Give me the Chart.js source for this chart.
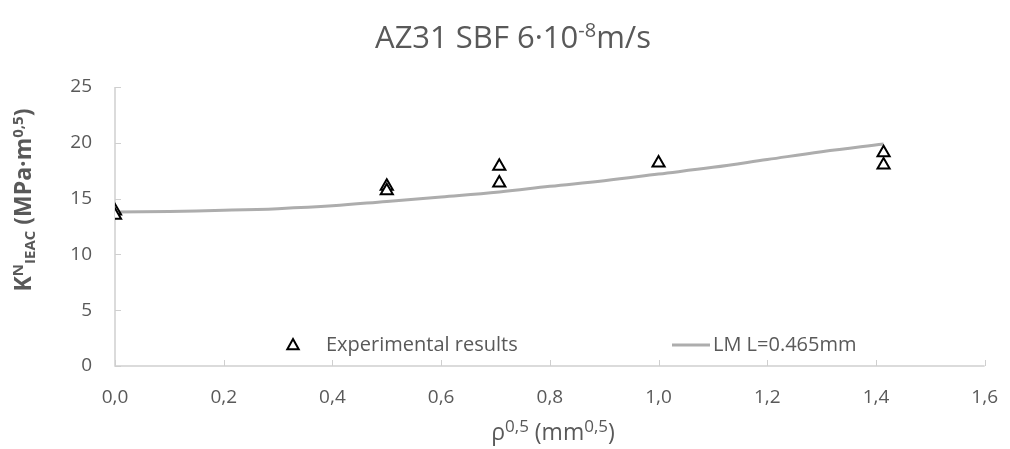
<!DOCTYPE html>
<html>
<head>
<meta charset="utf-8">
<script src="https://cdn.jsdelivr.net/npm/chart.js@4"></script>
<style>
  html, body { margin: 0; padding: 0; background: #fff; }
  canvas { display: block; }
</style>
</head>
<body>
<canvas id="chart" width="1010" height="449"></canvas>
<script>
// experimental points (x = rho^0.5, y = K)
const expX = [0, 0, 0.5, 0.5, 0.707, 0.707, 1.0, 1.414, 1.414];
const expY = [13.9, 13.5, 16.1, 15.7, 17.9, 16.4, 18.2, 19.1, 18.0];

// LM curve
const lmX = [0, 0.1, 0.2, 0.3, 0.4, 0.5, 0.6, 0.707, 0.8, 0.9, 1.0, 1.1, 1.2, 1.3, 1.414];
const lmY = [13.8, 13.85, 13.95, 14.1, 14.35, 14.75, 15.15, 15.6, 16.1, 16.6, 17.2, 17.8, 18.5, 19.2, 19.9];

const xTicks = [0, 0.2, 0.4, 0.6, 0.8, 1.0, 1.2, 1.4, 1.6];
const yTicks = [0, 5, 10, 15, 20, 25];

const FONT = '"Open Sans", sans-serif';
const TXT = '#595959';
const AXIS = '#CFCFCF';

// draws a list of [text, kind] parts, kind: n / sup / sub
function richText(ctx, parts, size, weight, x, y, align, ratio) {
  ratio = ratio || 0.65;
  const fontFor = k => `${weight} ${k === 'n' ? size : Math.round(size * ratio)}px ${FONT}`;
  let total = 0;
  parts.forEach(p => { ctx.font = fontFor(p[1]); total += ctx.measureText(p[0]).width; });
  let cx = align === 'center' ? x - total / 2 : x;
  ctx.textBaseline = 'alphabetic';
  ctx.textAlign = 'left';
  parts.forEach(p => {
    ctx.font = fontFor(p[1]);
    let dy = 0;
    if (p[1] === 'sup') dy = -size * 0.36;
    if (p[1] === 'sub') dy = size * 0.18;
    ctx.fillText(p[0], cx, y + dy);
    cx += ctx.measureText(p[0]).width;
  });
}

function triangle(ctx, x, y, r) {
  ctx.beginPath();
  ctx.moveTo(x, y - r);
  ctx.lineTo(x + r * 0.95, y + r * 0.7);
  ctx.lineTo(x - r * 0.95, y + r * 0.7);
  ctx.closePath();
  ctx.fillStyle = '#fff';
  ctx.fill();
  ctx.lineWidth = 2;
  ctx.strokeStyle = '#000';
  ctx.stroke();
}

const decor = {
  id: 'decor',
  beforeDatasetsDraw(chart) {
    const { ctx, chartArea: a, scales } = chart;
    ctx.save();
    ctx.strokeStyle = AXIS;
    ctx.lineWidth = 1.5;
    // axis lines
    ctx.beginPath();
    ctx.moveTo(a.left, a.top); ctx.lineTo(a.left, a.bottom);
    ctx.lineTo(a.right, a.bottom);
    ctx.stroke();
    // small tick marks inside
    ctx.lineWidth = 1;
    xTicks.forEach(v => {
      const px = Math.round(scales.x.getPixelForValue(v)) + 0.5;
      ctx.beginPath(); ctx.moveTo(px, a.bottom); ctx.lineTo(px, a.bottom - 6); ctx.stroke();
    });
    yTicks.forEach(v => {
      const py = Math.round(scales.y.getPixelForValue(v)) + 0.5;
      ctx.beginPath(); ctx.moveTo(a.left, py); ctx.lineTo(a.left + 6, py); ctx.stroke();
    });
    ctx.restore();
  },
  afterDraw(chart) {
    const { ctx, chartArea: a } = chart;
    ctx.save();
    ctx.fillStyle = TXT;
    // title
    richText(ctx, [['AZ31 SBF 6·10', 'n'], ['-8', 'sup'], ['m/s', 'n']], 31, 400, 513, 48, 'center');
    // x axis title
    richText(ctx, [['ρ', 'n'], ['0,5', 'sup'], [' (mm', 'n'], ['0,5', 'sup'], [')', 'n']], 23, 400, 553, 440, 'center', 0.72);
    // y axis title
    ctx.translate(31, 200);
    ctx.rotate(-Math.PI / 2);
    richText(ctx, [['K', 'n'], ['N', 'sup'], ['IEAC', 'sub'], [' (MPa·m', 'n'], ['0,5', 'sup'], [')', 'n']], 23, 700, 0, 0, 'center');
    ctx.restore();

    // legend inside plot
    ctx.save();
    const ly = a.bottom - 21;
    triangle(ctx, a.left + 178, ly, 6);
    ctx.font = `20px ${FONT}`;
    ctx.fillStyle = TXT;
    ctx.textBaseline = 'middle';
    ctx.fillText('Experimental results', a.left + 211, ly);
    ctx.strokeStyle = '#ADADAD';
    ctx.lineWidth = 3;
    ctx.beginPath(); ctx.moveTo(a.left + 557, ly); ctx.lineTo(a.left + 595, ly); ctx.stroke();
    ctx.fillText('LM L=0.465mm', a.left + 598, ly);
    ctx.restore();
  }
};

new Chart(document.getElementById('chart'), {
  type: 'scatter',
  data: {
    datasets: [
      {
        label: 'LM L=0.465mm',
        data: lmX.map((x, i) => ({ x, y: lmY[i] })),
        showLine: true,
        borderColor: '#ADADAD',
        borderWidth: 3,
        pointRadius: 0,
        tension: 0.4,
        order: 2
      },
      {
        label: 'Experimental results',
        data: expX.map((x, i) => ({ x, y: expY[i] })),
        pointStyle: 'triangle',
        pointRadius: 7,
        borderColor: '#000',
        borderWidth: 2,
        backgroundColor: '#fff',
        order: 1
      }
    ]
  },
  options: {
    responsive: false,
    animation: false,
    layout: { padding: { left: 0, right: 5, top: 87, bottom: 0 } },
    plugins: { legend: { display: false }, tooltip: { enabled: false } },
    scales: {
      x: {
        type: 'linear', min: 0, max: 1.6,
        afterBuildTicks: s => { s.ticks = xTicks.map(v => ({ value: v })); },
        afterFit: s => { s.height = 83; },
        grid: { display: false },
        border: { display: false },
        ticks: {
          padding: 12, color: TXT, font: { family: FONT, size: 19 },
          callback: v => v.toFixed(1).replace('.', ',')
        }
      },
      y: {
        min: 0, max: 25,
        afterBuildTicks: s => { s.ticks = yTicks.map(v => ({ value: v })); },
        afterFit: s => { s.width = 115; },
        grid: { display: false },
        border: { display: false },
        ticks: { padding: 15, color: TXT, font: { family: FONT, size: 19 } }
      }
    }
  },
  plugins: [decor]
});
</script>
</body>
</html>
